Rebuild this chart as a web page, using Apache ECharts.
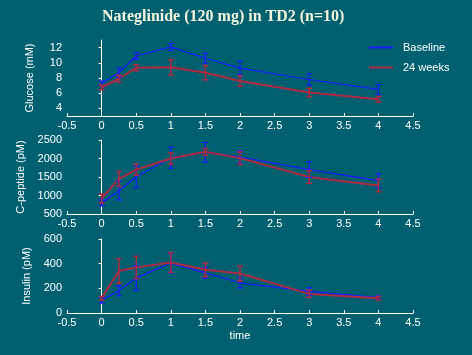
<!DOCTYPE html>
<html><head><meta charset="utf-8">
<script src="https://cdn.jsdelivr.net/npm/echarts@6/dist/echarts.min.js"></script>
<style>html,body{margin:0;padding:0;background:#006070;}#c{width:472px;height:355px;}</style>
</head><body><div id="c"></div>
<script>
var times = [0, 0.25, 0.5, 1, 1.5, 2, 3, 4];
var xTicks = [-0.5, 0, 0.5, 1, 1.5, 2, 2.5, 3, 3.5, 4, 4.5];
var glucoseBase = [7.3, 8.7, 10.9, 12.1, 10.6, 9.3, 7.8, 6.5];
var glucoseBaseErr = [0.3, 0.6, 0.45, 0.45, 0.65, 0.9, 0.75, 0.65];
var glucose24 = [6.75, 7.9, 9.35, 9.4, 8.7, 7.6, 6.1, 5.2];
var glucose24Err = [0.3, 0.45, 0.4, 1.0, 0.95, 0.7, 0.55, 0.35];
var glucoseTicks = [4, 6, 8, 10, 12];
var cpepBase = [800, 1130, 1500, 2020, 2170, 2040, 1700, 1400];
var cpepBaseErr = [80, 250, 285, 285, 265, 170, 210, 190];
var cpep24 = [920, 1450, 1700, 2000, 2180, 2010, 1500, 1270];
var cpep24Err = [120, 200, 150, 150, 90, 170, 170, 170];
var cpepTicks = [500, 1000, 1500, 2000, 2500];
var insBase = [105, 180, 285, 405, 325, 245, 175, 125];
var insBaseErr = [25, 40, 100, 80, 45, 40, 30, 15];
var ins24 = [120, 340, 370, 410, 350, 320, 155, 120];
var ins24Err = [15, 100, 90, 80, 55, 60, 30, 15];
var insTicks = [0, 200, 400, 600];

var BLUE = '#1a1aff', RED = '#b02a44', WHITE = '#ffffff';
var FONT = 'Liberation Sans';

function pairs(v){ return times.map(function(t,i){ return [t, v[i]]; }); }
function errData(v,e){ return times.map(function(t,i){ return [t, v[i]-e[i], v[i]+e[i]]; }); }

function lineSeries(name, v, idx, color, w){
  return {type:'line', name:name, xAxisIndex:idx, yAxisIndex:idx, data:pairs(v),
    symbol:'none', showSymbol:false, lineStyle:{color:color, width:w}, itemStyle:{color:color}, z:3};
}
function errSeries(name, v, e, idx, color, w){
  return {type:'custom', name:name, xAxisIndex:idx, yAxisIndex:idx, data:errData(v,e), z:4,
    renderItem:function(params, api){
      var lo = api.coord([api.value(0), api.value(1)]);
      var hi = api.coord([api.value(0), api.value(2)]);
      var c = 3;
      var st = {stroke:color, lineWidth:w};
      return {type:'group', children:[
        {type:'line', shape:{x1:lo[0],y1:lo[1],x2:hi[0],y2:hi[1]}, style:st},
        {type:'line', shape:{x1:lo[0]-c,y1:lo[1],x2:lo[0]+c,y2:lo[1]}, style:st},
        {type:'line', shape:{x1:hi[0]-c,y1:hi[1],x2:hi[0]+c,y2:hi[1]}, style:st}
      ]};
    }};
}

var grids = [
  {left:67, right:59, top:40, height:76},
  {left:67, right:59, top:140, height:74},
  {left:67, right:59, top:239, height:74}
];
function xAxis(i, showName){
  return {type:'value', gridIndex:i, min:-0.5, max:4.5, interval:0.5,
    name: showName ? 'time' : '', nameLocation:'middle', nameGap:17,
    nameTextStyle:{color:WHITE, fontFamily:FONT, fontSize:11},
    axisLine:{show:true, lineStyle:{color:WHITE, width:1}},
    axisTick:{show:true, inside:true, length:3, lineStyle:{color:WHITE}},
    axisLabel:{color:WHITE, fontFamily:FONT, fontSize:11, margin:4,
      customValues:xTicks, formatter:function(v){ return String(v); }},
    splitLine:{show:false}};
}
function yAxis(i, name, min, max, ticks){
  return {type:'value', gridIndex:i, min:min, max:max,
    name:name, nameLocation:'middle', nameGap:32, nameRotate:90,
    nameTextStyle:{color:WHITE, fontFamily:FONT, fontSize:11},
    axisLine:{show:true, lineStyle:{color:WHITE, width:1}},
    axisTick:{show:true, inside:false, length:3, lineStyle:{color:WHITE}, customValues:ticks},
    axisLabel:{color:WHITE, fontFamily:FONT, fontSize:11, margin:5, customValues:ticks,
      formatter:function(v){ return String(v); }},
    splitLine:{show:false}};
}

var chart = echarts.init(document.getElementById('c'));
chart.setOption({
  backgroundColor:'#006070',
  animation:false,
  title:{text:'Nateglinide (120 mg) in TD2 (n=10)', left:97, top:4,
    textStyle:{color:'#f4f4dc', fontFamily:'Liberation Serif', fontWeight:'bold', fontSize:16}},
  legend:{data:[{name:'Baseline', icon:'rect'},{name:'24 weeks', icon:'rect'}],
    orient:'vertical', left:364, top:37, itemWidth:24, itemHeight:2, itemGap:9,
    textStyle:{color:WHITE, fontFamily:FONT, fontSize:11, padding:[0,0,0,5]}},
  grid:grids,
  xAxis:[xAxis(0,false), xAxis(1,false), xAxis(2,true)],
  yAxis:[yAxis(0,'Glucose (mM)',3,13,glucoseTicks),
         yAxis(1,'C-peptide (pM)',500,2500,cpepTicks),
         yAxis(2,'Insulin (pM)',0,600,insTicks)],
  series:[
    lineSeries('Baseline', glucoseBase, 0, BLUE, 1.2),
    lineSeries('24 weeks', glucose24, 0, RED, 2),
    errSeries('Baseline', glucoseBase, glucoseBaseErr, 0, BLUE, 1.2),
    errSeries('24 weeks', glucose24, glucose24Err, 0, RED, 1.5),
    lineSeries('Baseline', cpepBase, 1, BLUE, 1.2),
    lineSeries('24 weeks', cpep24, 1, RED, 2),
    errSeries('Baseline', cpepBase, cpepBaseErr, 1, BLUE, 1.2),
    errSeries('24 weeks', cpep24, cpep24Err, 1, RED, 1.5),
    lineSeries('Baseline', insBase, 2, BLUE, 1.2),
    lineSeries('24 weeks', ins24, 2, RED, 2),
    errSeries('Baseline', insBase, insBaseErr, 2, BLUE, 1.2),
    errSeries('24 weeks', ins24, ins24Err, 2, RED, 1.5)
  ]
});
</script></body></html>
